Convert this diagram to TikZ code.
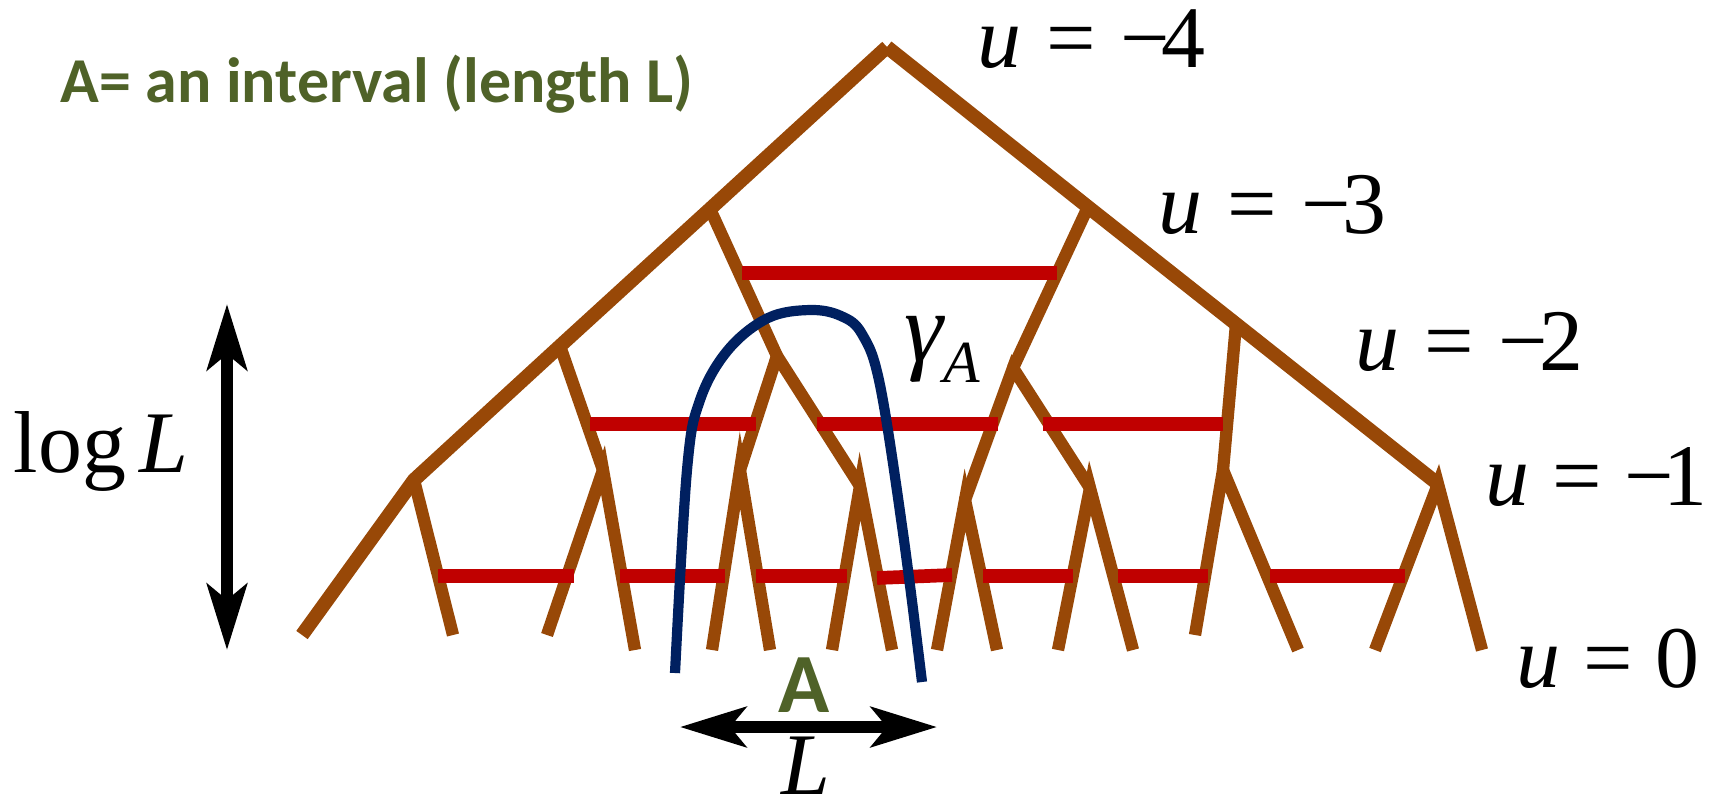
\documentclass[tikz,border=0pt]{standalone}
\usepackage{fontspec}
\setmainfont{Liberation Serif}
\newfontfamily\calibrifont{Carlito}
\usetikzlibrary{arrows.meta}
\definecolor{treebrown}{RGB}{152,72,7}
\definecolor{cutred}{RGB}{192,0,0}
\definecolor{curveblue}{RGB}{0,32,96}
\definecolor{labelgreen}{RGB}{79,98,40}

\begin{document}
\begin{tikzpicture}[x=0.1mm, y=-0.1mm,
    trunk/.style={treebrown, line width=4pt},
    branch/.style={treebrown, line width=3.5pt},
    cutbar/.style={cutred, line width=3.9pt},
    gammaline/.style={curveblue, line width=2.9pt},
    dblarrow/.style={{Stealth[length=6.6mm, width=4mm, inset=1.6mm]}-{Stealth[length=6.6mm, width=4mm, inset=1.6mm]}, line width=3.2pt},
    ulabel/.style={anchor=base west, inner sep=0pt, font=\fontsize{25}{30}\selectfont},
    greenlabel/.style={inner sep=0pt, text=labelgreen, font=\calibrifont\bfseries}]
  \useasboundingbox (0,0) rectangle (1713,807);

  % tree vertices
  \coordinate (top) at (887,47);
  \coordinate (l3) at (710,209);
  \coordinate (r3) at (1088,207);
  \coordinate (l2) at (560,346);
  \coordinate (m2a) at (777,356);
  \coordinate (m2b) at (1013,368);
  \coordinate (r2) at (1236,324);
  \coordinate (l1) at (414,480);
  \coordinate (a1) at (603,470);
  \coordinate (b1) at (740,470);
  \coordinate (c1) at (860,486);
  \coordinate (d1) at (965,500);
  \coordinate (e1) at (1090,488);
  \coordinate (f1) at (1223,470);
  \coordinate (r1) at (1438,484);
  \coordinate (z1) at (302,635);
  \coordinate (z2) at (453,635);
  \coordinate (z3) at (547,635);
  \coordinate (z4) at (635,650);
  \coordinate (z5) at (712,650);
  \coordinate (z6) at (770,650);
  \coordinate (z7) at (832,650);
  \coordinate (z8) at (892,650);
  \coordinate (z9) at (937,650);
  \coordinate (z10) at (997,650);
  \coordinate (z11) at (1058,650);
  \coordinate (z12) at (1133,650);
  \coordinate (z13) at (1195,635);
  \coordinate (z14) at (1298,650);
  \coordinate (z15) at (1375,650);
  \coordinate (z16) at (1482,650);

  % outer edges
  \draw[trunk] (top) -- (l3) -- (l2) -- (l1) -- (z1);
  \draw[trunk] (top) -- (r3) -- (r2) -- (r1);

  % inner branches
  \draw[branch] (l3) -- (m2a);
  \draw[branch] (r3) -- (m2b);
  \draw[branch] (l2) -- (a1);
  \draw[branch] (b1) -- (m2a) -- (c1);
  \draw[branch] (d1) -- (m2b) -- (e1);
  \draw[branch] (r2) -- (f1);
  \draw[branch] (l1) -- (z2);
  \draw[branch] (z3) -- (a1) -- (z4);
  \draw[branch] (z5) -- (b1) -- (z6);
  \draw[branch] (z7) -- (c1) -- (z8);
  \draw[branch] (z9) -- (d1) -- (z10);
  \draw[branch] (z11) -- (e1) -- (z12);
  \draw[branch] (z13) -- (f1) -- (z14);
  \draw[branch] (z15) -- (r1) -- (z16);

  % cuts
  \draw[cutbar] (742,273) -- (1057,273);
  \draw[cutbar] (590,424) -- (756,424);
  \draw[cutbar] (817,424) -- (998,424);
  \draw[cutbar] (1043,424) -- (1223,424);
  \draw[cutbar] (438,576) -- (574,576);
  \draw[cutbar] (620,576) -- (725,576);
  \draw[cutbar] (756,576) -- (847,576);
  \draw[cutbar] (877,578) -- (952,575);
  \draw[cutbar] (983,576) -- (1073,576);
  \draw[cutbar] (1118,576) -- (1208,576);
  \draw[cutbar] (1270,576) -- (1405,576);

  % the curve gamma_A
  \draw[gammaline] plot[smooth, tension=0.6] coordinates {(675,673) (687,470) (700,400) (728,350) (768,318) (810,310) (841,316) (862,334) (880,385) (903,533) (922,682)};

  % labels
  \node[greenlabel, anchor=base west, font=\calibrifont\bfseries\fontsize{18.2}{22}\selectfont] (title) at (60,102) {A= an interval (length L)};
  \node[ulabel] (u4) at (977,67) {\textit{u}\hspace{0.28em}=\hspace{0.28em}−\kern-0.1em4};
  \node[ulabel] (u3) at (1158,233) {\textit{u}\hspace{0.28em}=\hspace{0.28em}−\kern-0.1em3};
  \node[ulabel] (u2) at (1355,370) {\textit{u}\hspace{0.28em}=\hspace{0.28em}−\kern-0.1em2};
  \node[ulabel] (u1) at (1485,505) {\textit{u}\hspace{0.26em}=\hspace{0.26em}−\kern-0.12em1};
  \node[ulabel] (u0) at (1516,687) {\textit{u}\hspace{0.26em}=\hspace{0.26em}0};
  \node[ulabel, font=\fontsize{28}{32}\selectfont] (gamma) at (904,361) {\textit{γ}\kern-0.02em\raisebox{-2.1mm}{\fontsize{17}{19}\selectfont\textit{A}}};
  \node[ulabel] (logL) at (13,472) {log\hspace{0.15em}\textit{L}};
  \node[greenlabel, anchor=base, font=\calibrifont\bfseries\fontsize{24}{28}\selectfont] (setA) at (804,712) {A};
  \node[ulabel, anchor=base] (lenL) at (806,794) {\textit{L}};

  % double arrows
  \coordinate (logtop) at (227,304);
  \coordinate (logbot) at (227,650);
  \coordinate (lenleft) at (680,727);
  \coordinate (lenright) at (937,727);
  \draw[dblarrow] (logtop) -- (logbot);
  \draw[dblarrow] (lenleft) -- (lenright);
\end{tikzpicture}
\end{document}
